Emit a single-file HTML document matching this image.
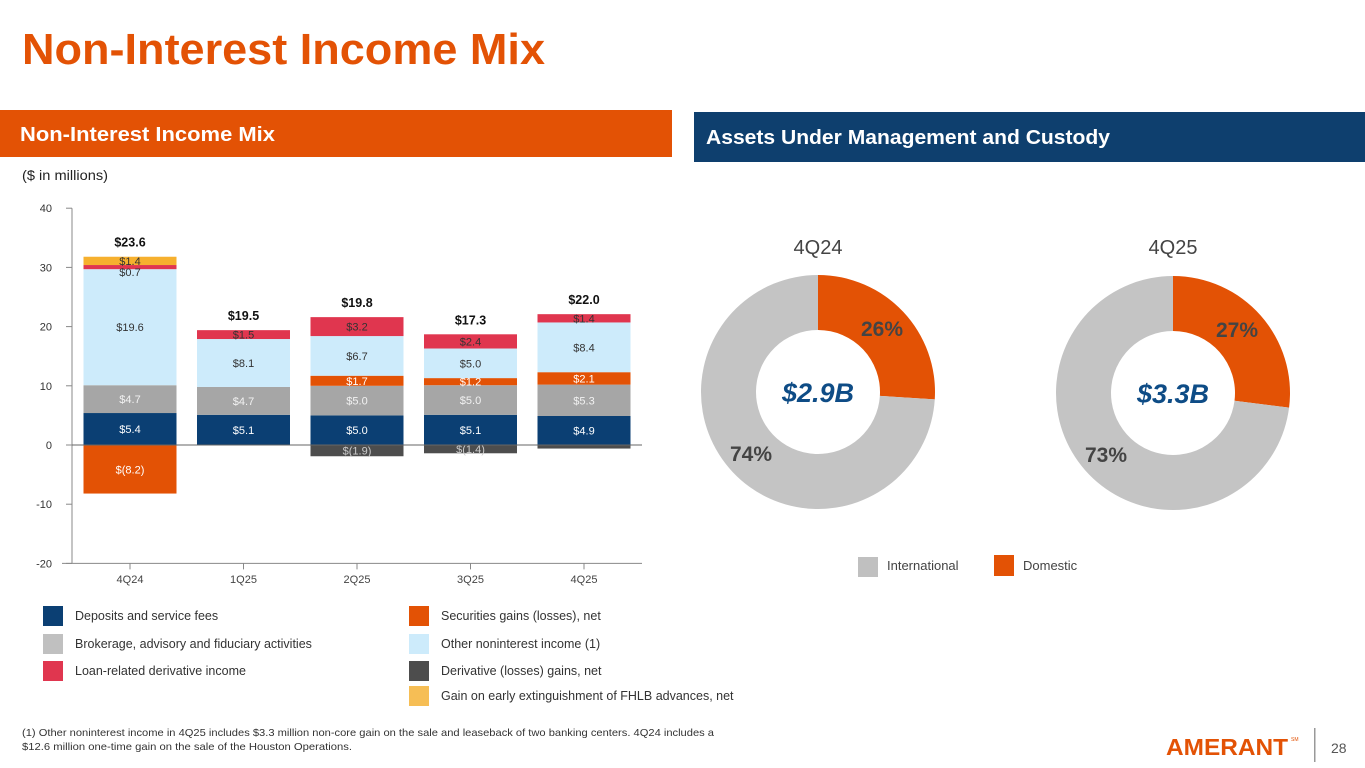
<!DOCTYPE html>
<html><head><meta charset="utf-8">
<style>
html,body{margin:0;padding:0;background:#fff;}
svg{display:block;font-family:"Liberation Sans",sans-serif;}
</style></head>
<body>
<svg id="page" width="1365" height="768" viewBox="0 0 1365 768" xmlns="http://www.w3.org/2000/svg">
  <text x="22" y="64" font-size="44" font-weight="bold" fill="#E35205" textLength="523" lengthAdjust="spacingAndGlyphs">Non-Interest Income Mix</text>

  <rect x="0" y="110" width="672" height="47" fill="#E35205"/>
  <text x="20" y="141" font-size="20" font-weight="bold" fill="#fff" textLength="255" lengthAdjust="spacingAndGlyphs">Non-Interest Income Mix</text>
  <rect x="694" y="112" width="671" height="50" fill="#0E3F6E"/>
  <text x="706" y="144" font-size="20" font-weight="bold" fill="#fff" textLength="404" lengthAdjust="spacingAndGlyphs">Assets Under Management and Custody</text>

  <text x="22" y="180" font-size="14" fill="#222" textLength="86" lengthAdjust="spacingAndGlyphs">($ in millions)</text>

  <g id="barchart"></g>
  <g id="legend"></g>
  <g id="donuts"></g>

  <rect x="858" y="557" width="20" height="20" fill="#C0C0C0"/>
  <text x="887" y="570" font-size="13" fill="#444">International</text>
  <rect x="994" y="555" width="20" height="21" fill="#E35205"/>
  <text x="1023" y="570" font-size="13" fill="#444">Domestic</text>

  <text x="22" y="736" font-size="10.5" fill="#333" textLength="692" lengthAdjust="spacingAndGlyphs">(1)  Other noninterest income in 4Q25 includes $3.3 million non-core gain on the sale and leaseback of two banking centers. 4Q24 includes a</text>
  <text x="22" y="750" font-size="10.5" fill="#333" textLength="330" lengthAdjust="spacingAndGlyphs">$12.6 million one-time gain on the sale of the Houston Operations.</text>

  <text x="1166" y="755" font-size="23" font-weight="bold" fill="#E35205" textLength="122" lengthAdjust="spacingAndGlyphs">AMERANT</text>
  <text x="1291" y="741" font-size="5" fill="#E35205">SM</text>
  <rect x="1314" y="728" width="1.5" height="34" fill="#999"/>
  <text x="1331" y="753" font-size="14" fill="#555">28</text>
</svg>
<script>
const NS = "http://www.w3.org/2000/svg";
const categories = ["4Q24","1Q25","2Q25","3Q25","4Q25"];
const totals = ["$23.6","$19.5","$19.8","$17.3","$22.0"];
const deposits = [5.4, 5.1, 5.0, 5.1, 4.9];
const brokerage = [4.7, 4.7, 5.0, 5.0, 5.3];
const securities = [-8.2, 0, 1.7, 1.2, 2.1];
const otherIncome = [19.6, 8.1, 6.7, 5.0, 8.4];
const loanDeriv = [0.7, 1.5, 3.2, 2.4, 1.4];
const fhlb = [1.4, 0, 0, 0, 0];
const derivative = [0, 0, -1.9, -1.4, -0.6];
const yTicks = [40, 30, 20, 10, 0, -10, -20];
const donutCats = ["4Q24","4Q25"];
const domesticPct = [26, 27];
const internationalPct = [74, 73];
const aumTotals = ["$2.9B","$3.3B"];

function mk(tag, attrs, parent){const e=document.createElementNS(NS,tag);for(const k in attrs)e.setAttribute(k,attrs[k]);parent.appendChild(e);return e;}

const chart = document.getElementById('barchart');
const y0 = 445, pxPerUnit = 5.92;
function yScale(v){return y0 - v*pxPerUnit;}
function xCenter(i){return 130 + i*113.5;}
const barW = 93;

// axes
let ax = mk('line',{x1:72,y1:yScale(40),x2:72,y2:yScale(-20),stroke:'#888','stroke-width':1},chart);


yTicks.forEach(t=>{
  const tk = mk('line',{x1:66,y1:yScale(t),x2:72,y2:yScale(t),stroke:'#888'},chart);
  
  
  const tl = mk('text',{x:52,y:yScale(t)+4,'font-size':11,fill:'#333','text-anchor':'end'},chart);
  tl.textContent = t;
  
  
});
categories.forEach((c,i)=>{
  const tk = mk('line',{x1:xCenter(i),y1:yScale(-20),x2:xCenter(i),y2:yScale(-20)+6,stroke:'#888'},chart);
  
  
  const tl = mk('text',{x:xCenter(i),y:583,'font-size':11,fill:'#444','text-anchor':'middle'},chart);
  tl.textContent = c;
  
  
});

const series = [
  {name:'deposits', vals:deposits, color:'#0B3F73', lab:'#fff'},
  {name:'brokerage', vals:brokerage, color:'#A6A6A6', lab:'#f2f2f2'},
  {name:'securities', vals:securities, color:'#E35205', lab:'#fff'},
  {name:'other-income', vals:otherIncome, color:'#CDEBFB', lab:'#333'},
  {name:'loan-derivative', vals:loanDeriv, color:'#E0364F', lab:'#333'},
  {name:'fhlb-gain', vals:fhlb, color:'#F6B02E', lab:'#333'},
  {name:'derivative', vals:derivative, color:'#4D4D4D', lab:'#ccc'}
];
function fmt(v){return v<0?'$('+Math.abs(v).toFixed(1)+')':'$'+v.toFixed(1);}
let tops=[];
categories.forEach((c,i)=>{
  let pos=0, neg=0;
  series.forEach(s=>{
    const v=s.vals[i]; if(!v) return;
    let a,b;
    if(v>0){a=pos;b=pos+v;pos=b;}else{a=neg+v;b=neg;neg=a;}
    const r = mk('rect',{x:xCenter(i)-barW/2,y:yScale(b),width:barW,height:yScale(a)-yScale(b),fill:s.color},chart);
    
    
    if(Math.abs(v)>=0.6){
      const small = Math.abs(v)<1;
      const ty = small ? yScale(b)+11 : (yScale(a)+yScale(b))/2+4;
      const t = mk('text',{x:xCenter(i),y:ty,'font-size':11,fill:s.lab,'text-anchor':'middle'},chart);
      t.textContent = (s.name==='derivative' && Math.abs(v)<1) ? '' : fmt(v);
      
      
    }
  });
  tops.push(pos);
});
// zero line
let zl = mk('line',{x1:72,y1:y0,x2:642,y2:y0,stroke:'#666','stroke-width':1},chart);


let bl = mk('line',{x1:62,y1:yScale(-20),x2:642,y2:yScale(-20),stroke:'#888','stroke-width':1},chart);


totals.forEach((t,i)=>{
  const e = mk('text',{x:xCenter(i),y:yScale(tops[i])-10,'font-size':12.5,'font-weight':'bold',fill:'#111','text-anchor':'middle'},chart);
  e.textContent=t;
  
  
});

// legend
const legend = document.getElementById('legend');
const legItems = [
  [43,606,'#0B3F73','Deposits and service fees'],
  [43,634,'#C0C0C0','Brokerage, advisory and fiduciary activities'],
  [43,661,'#E0364F','Loan-related derivative income'],
  [409,606,'#E35205','Securities gains (losses), net'],
  [409,634,'#CDEBFB','Other noninterest income (1)'],
  [409,661,'#4D4D4D','Derivative (losses) gains, net'],
  [409,686,'#F6BE55','Gain on early extinguishment of FHLB advances, net']
];
legItems.forEach(l=>{
  const r = mk('rect',{x:l[0],y:l[1],width:20,height:20,fill:l[2]},legend);
  
  
  const t = mk('text',{x:l[0]+32,y:l[1]+14,'font-size':12.5,fill:'#333'},legend);
  t.textContent=l[3];
  
  
});

// donuts
const donuts = document.getElementById('donuts');
const centers = [[818,392],[1173,393]];
const R=117, r0=62;
function pt(cx,cy,rad,frac){const a=frac*2*Math.PI-Math.PI/2;return [cx+rad*Math.cos(a),cy+rad*Math.sin(a)];}
function arc(cx,cy,f0,f1){
  const p0=pt(cx,cy,R,f0),p1=pt(cx,cy,R,f1),q1=pt(cx,cy,r0,f1),q0=pt(cx,cy,r0,f0);
  const large=(f1-f0)>0.5?1:0;
  return `M${p0[0]},${p0[1]} A${R},${R} 0 ${large} 1 ${p1[0]},${p1[1]} L${q1[0]},${q1[1]} A${r0},${r0} 0 ${large} 0 ${q0[0]},${q0[1]} Z`;
}
donutCats.forEach((c,i)=>{
  const [cx,cy]=centers[i];
  const d=domesticPct[i]/100;
  const s1=mk('path',{d:arc(cx,cy,0,d),fill:'#E35205'},donuts);
  
  
  const s2=mk('path',{d:arc(cx,cy,d,1),fill:'#C4C4C4'},donuts);
  
  
  const tt=mk('text',{x:cx,y:254,'font-size':20,fill:'#444','text-anchor':'middle'},donuts);
  tt.textContent=c;
  
  
  const ct=mk('text',{x:cx,y:cy+10,'font-size':27,'font-weight':'bold','font-style':'italic',fill:'#0E4C86','text-anchor':'middle'},donuts);
  ct.textContent=aumTotals[i];
  
  
  const dl=mk('text',{x:cx+64,y:cy-56,'font-size':21,'font-weight':'bold',fill:'#444','text-anchor':'middle'},donuts);
  dl.textContent=domesticPct[i]+'%';
  
  
  const il=mk('text',{x:cx-67,y:cy+69,'font-size':21,'font-weight':'bold',fill:'#444','text-anchor':'middle'},donuts);
  il.textContent=internationalPct[i]+'%';
  
  
});
</script>
</body></html>
